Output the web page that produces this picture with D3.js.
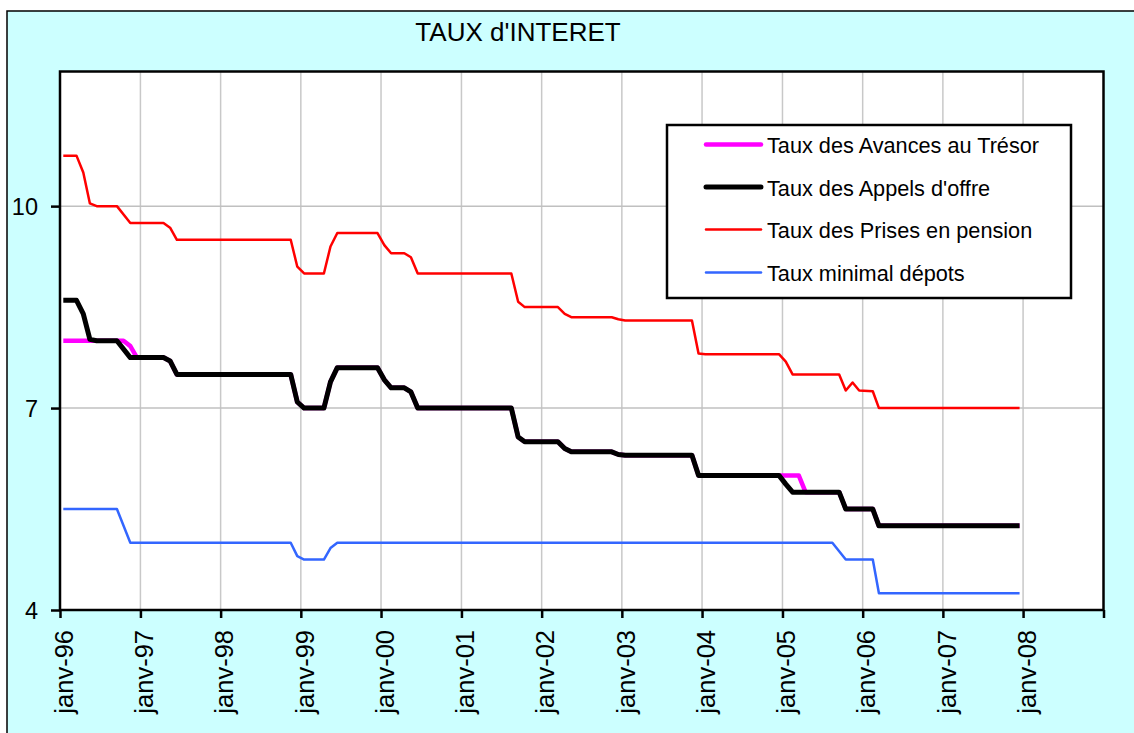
<!DOCTYPE html>
<html>
<head>
<meta charset="utf-8">
<script src="https://cdn.jsdelivr.net/npm/d3@7"></script>
<style>
  html, body { margin: 0; padding: 0; background: #ffffff; }
  svg { display: block; font-family: "Liberation Sans", Arial, sans-serif; }
</style>
</head>
<body>
<svg id="chart" width="1134" height="733"></svg>
<script>
// Corner points of each monthly series (month, rate in %); the lines run straight between them.
const avancesMonths = ["1996-01","1996-10","1996-11","1996-12","1997-04","1997-05","1997-06","1998-11","1998-12","1999-01","1999-04","1999-05","1999-06","1999-12","2000-01","2000-02","2000-04","2000-05","2000-06","2001-08","2001-09","2001-10","2002-03","2002-04","2002-05","2002-11","2002-12","2003-01","2003-11","2003-12","2004-01","2004-12","2005-03","2005-04","2005-09","2005-10","2006-02","2006-03","2007-12"];
const avancesValues = [8.0,8.0,7.92,7.75,7.75,7.7,7.5,7.5,7.09,7.0,7.0,7.39,7.6,7.6,7.42,7.3,7.3,7.24,7.0,7.0,6.57,6.5,6.5,6.4,6.35,6.35,6.31,6.3,6.3,6.0,6.0,6.0,6.0,5.75,5.75,5.5,5.5,5.25,5.25];

const appelsMonths = ["1996-01","1996-03","1996-04","1996-05","1996-06","1996-09","1996-11","1997-04","1997-05","1997-06","1998-11","1998-12","1999-01","1999-04","1999-05","1999-06","1999-12","2000-01","2000-02","2000-04","2000-05","2000-06","2001-08","2001-09","2001-10","2002-03","2002-04","2002-05","2002-11","2002-12","2003-01","2003-11","2003-12","2004-01","2004-12","2005-01","2005-02","2005-09","2005-10","2006-02","2006-03","2007-12"];
const appelsValues = [8.6,8.6,8.4,8.02,8.0,8.0,7.75,7.75,7.7,7.5,7.5,7.09,7.0,7.0,7.39,7.6,7.6,7.42,7.3,7.3,7.24,7.0,7.0,6.57,6.5,6.5,6.4,6.35,6.35,6.31,6.3,6.3,6.0,6.0,6.0,5.87,5.75,5.75,5.5,5.5,5.25,5.25];

const pensionMonths = ["1996-01","1996-03","1996-04","1996-05","1996-06","1996-09","1996-11","1997-04","1997-05","1997-06","1998-11","1998-12","1999-01","1999-04","1999-05","1999-06","1999-12","2000-01","2000-02","2000-04","2000-05","2000-06","2001-08","2001-09","2001-10","2002-03","2002-04","2002-05","2002-11","2002-12","2003-01","2003-11","2003-12","2004-01","2004-12","2005-01","2005-02","2005-09","2005-10","2005-11","2005-12","2006-02","2006-03","2007-12"];
const pensionValues = [10.75,10.75,10.5,10.04,10.0,10.0,9.75,9.75,9.68,9.5,9.5,9.1,9.0,9.0,9.4,9.6,9.6,9.42,9.3,9.3,9.24,9.0,9.0,8.58,8.5,8.5,8.4,8.35,8.35,8.32,8.3,8.3,7.81,7.8,7.8,7.69,7.5,7.5,7.26,7.38,7.26,7.25,7.0,7.0];

const depotsMonths = ["1996-01","1996-09","1996-11","1998-11","1998-12","1999-01","1999-04","1999-05","1999-06","2005-08","2005-10","2006-02","2006-03","2007-12"];
const depotsValues = [5.5,5.5,5.0,5.0,4.8,4.75,4.75,4.92,5.0,5.0,4.75,4.75,4.25,4.25];

const seriesNames = ["Taux des Avances au Trésor","Taux des Appels d'offre","Taux des Prises en pension","Taux minimal dépots"];
const seriesColors = ["#ff00ff","#000000","#ff0000","#3366ff"];
const seriesWidths = [4.5,5,2.5,2.5];

const yTickValues = [4,7,10];
const xTickYears = [1996,1997,1998,1999,2000,2001,2002,2003,2004,2005,2006,2007,2008,2009];
const xTickLabels = ["janv-96","janv-97","janv-98","janv-99","janv-00","janv-01","janv-02","janv-03","janv-04","janv-05","janv-06","janv-07","janv-08",""];

const titleText = "TAUX d'INTERET";

const parseMonth = d3.timeParse("%Y-%m");
// each monthly value sits in the middle of its month
const toPoints = (months, values) => months.map((m, i) => ({ date: d3.timeDay.offset(parseMonth(m), 15), value: values[i] }));

const series = [
  toPoints(avancesMonths, avancesValues),
  toPoints(appelsMonths, appelsValues),
  toPoints(pensionMonths, pensionValues),
  toPoints(depotsMonths, depotsValues)
];

const svg = d3.select("#chart");
const plot = { left: 60, top: 71.5, right: 1103.5, bottom: 610 };

// chart area
svg.append("rect")
  .attr("x", 7).attr("y", 11)
  .attr("width", 1140).attr("height", 740)
  .attr("fill", "#ccffff").attr("stroke", "#000").attr("stroke-width", 1.5);

svg.append("text")
  .attr("x", 518).attr("y", 41)
  .attr("text-anchor", "middle")
  .attr("font-size", 26)
  .attr("fill", "#000")
  .text(titleText);

const x = d3.scaleTime()
  .domain([new Date(1996, 0, 1), new Date(2009, 0, 1)])
  .range([plot.left, plot.right]);
const y = d3.scaleLinear()
  .domain([4, 12])
  .range([plot.bottom, plot.top]);

// plot area
svg.append("rect")
  .attr("x", plot.left).attr("y", plot.top)
  .attr("width", plot.right - plot.left).attr("height", plot.bottom - plot.top)
  .attr("fill", "#ffffff");

const xTickDates = xTickYears.map(yr => new Date(yr, 0, 1));

// gridlines
svg.append("g")
  .selectAll("line.vgrid")
  .data(xTickDates.slice(1, -1))
  .join("line")
  .attr("x1", d => x(d)).attr("x2", d => x(d))
  .attr("y1", plot.top).attr("y2", plot.bottom)
  .attr("stroke", "#c8c8c8").attr("stroke-width", 1.5);

svg.append("g")
  .selectAll("line.hgrid")
  .data(yTickValues.slice(1))
  .join("line")
  .attr("x1", plot.left).attr("x2", plot.right)
  .attr("y1", d => y(d)).attr("y2", d => y(d))
  .attr("stroke", "#c0c0c0").attr("stroke-width", 1.5);

// series lines
const line = d3.line()
  .x(d => x(d.date))
  .y(d => y(d.value));

svg.append("g")
  .selectAll("path")
  .data(series)
  .join("path")
  .attr("d", line)
  .attr("fill", "none")
  .attr("stroke", (d, i) => seriesColors[i])
  .attr("stroke-width", (d, i) => seriesWidths[i])
  .attr("stroke-linejoin", "round")
  .attr("stroke-linecap", "butt");

// plot frame
svg.append("rect")
  .attr("x", plot.left).attr("y", plot.top)
  .attr("width", plot.right - plot.left).attr("height", plot.bottom - plot.top)
  .attr("fill", "none").attr("stroke", "#000").attr("stroke-width", 2.5);

// axes
const xAxis = d3.axisBottom(x)
  .tickValues(xTickDates)
  .tickSize(8)
  .tickFormat((d, i) => xTickLabels[i]);

const gx = svg.append("g")
  .attr("transform", `translate(0,${plot.bottom})`)
  .call(xAxis);
gx.select(".domain").remove();
gx.selectAll(".tick line").attr("stroke", "#000").attr("stroke-width", 2.5);
gx.selectAll(".tick text")
  .attr("font-family", "'Liberation Sans', Arial, sans-serif")
  .attr("font-size", 25.5)
  .attr("fill", "#000")
  .attr("text-anchor", "end")
  .attr("transform", "rotate(-90)")
  .attr("x", -20)
  .attr("y", 0)
  .attr("dy", "0.48em");

const yAxis = d3.axisLeft(y)
  .tickValues(yTickValues)
  .tickSize(9)
  .tickPadding(13);

const gy = svg.append("g")
  .attr("transform", `translate(${plot.left},0)`)
  .call(yAxis);
gy.select(".domain").remove();
gy.selectAll(".tick line").attr("stroke", "#000").attr("stroke-width", 2.5);
gy.selectAll(".tick text")
  .attr("font-family", "'Liberation Sans', Arial, sans-serif")
  .attr("font-size", 23.5)
  .attr("fill", "#000")
  .attr("dy", "0.34em");

// legend
const legend = svg.append("g");
legend.append("rect")
  .attr("x", 667).attr("y", 125)
  .attr("width", 404).attr("height", 173)
  .attr("fill", "#ffffff").attr("stroke", "#000").attr("stroke-width", 2.5);

const rowY = [144.5, 187, 229.5, 272.5];
const rows = legend.selectAll("g.row")
  .data(seriesNames)
  .join("g")
  .attr("transform", (d, i) => `translate(0,${rowY[i]})`);

rows.append("line")
  .attr("x1", 706).attr("x2", 761)
  .attr("y1", 0).attr("y2", 0)
  .attr("stroke", (d, i) => seriesColors[i])
  .attr("stroke-width", (d, i) => seriesWidths[i])
  .attr("stroke-linecap", "round");

rows.append("text")
  .attr("x", 767).attr("y", 8.8)
  .attr("font-size", 21.7)
  .attr("fill", "#000")
  .text(d => d);
</script>
</body>
</html>
